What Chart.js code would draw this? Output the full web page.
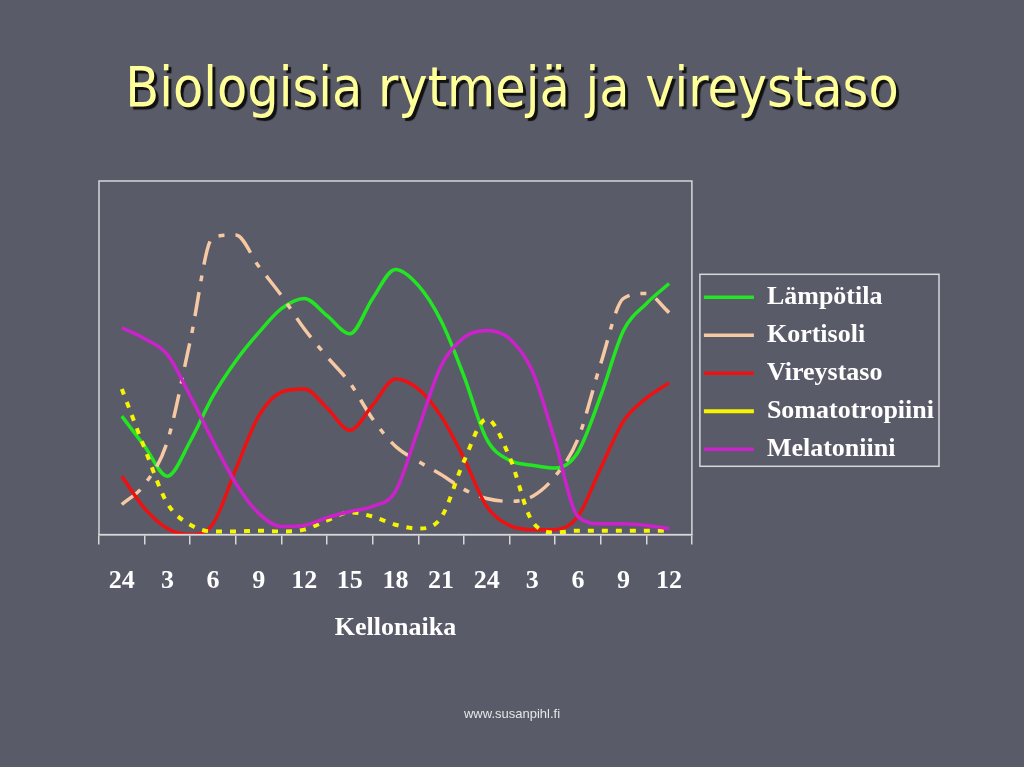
<!DOCTYPE html>
<html>
<head>
<meta charset="utf-8">
<script src="https://cdn.jsdelivr.net/npm/chart.js@4"></script>
<style>
  body { margin: 0; background: #595b69; }
  #wrap { position: relative; width: 1024px; height: 767px; overflow: hidden; }
  #title {
    position: absolute; left: 0; top: 55px; width: 1024px; text-align: center;
    font-family: 'DejaVu Sans', sans-serif; font-stretch: condensed;
    font-size: 55px; color: #ffff99; text-shadow: 3px 3px 1px #111;
    z-index: 2; white-space: nowrap;
  }
  #footer {
    position: absolute; left: 0; top: 706px; width: 1024px; text-align: center;
    font-family: 'Liberation Sans', Arial, sans-serif; font-size: 13px; color: #e6e6e6; z-index: 2;
  }
  #box { position: absolute; left: 0; top: 0; width: 1024px; height: 767px; }
</style>
</head>
<body>
<div id="wrap">
  <div id="title">Biologisia rytmejä ja vireystaso</div>
  <div id="box"><canvas id="myChart"></canvas></div>
  <div id="footer">www.susanpihl.fi</div>
</div>
<script>
'use strict';

// x axis labels (clock hours, every 3 h)
let hours = ['24', '3', '6', '9', '12', '15', '18', '21', '24', '3', '6', '9', '12'];

// samples every 1.5 h, in units of one tick
let samplePos = [0, 0.5, 1, 1.5, 2, 2.5, 3, 3.5, 4, 4.5, 5, 5.5, 6, 6.5, 7, 7.5, 8, 8.5, 9, 9.5, 10, 10.5, 11, 11.5, 12];

// series values (0..100 relative)
let lampotila = [33.5, 25, 16.5, 26.4, 39.2, 49.1, 57.1, 63.9, 66.8, 61.9, 56.8, 66.8, 75, 70.5, 60.5, 44.9, 27, 21, 19.6, 18.8, 23.3, 39.2, 57.7, 65.3, 71];
let kortisoli = [8.5, 14.2, 26.4, 54.8, 84.1, 84.7, 75.9, 67.6, 58.2, 50.3, 42.9, 32.7, 25, 20.7, 17, 12.8, 10.2, 9.4, 10.8, 16.5, 27, 48.3, 66.8, 68.2, 62.8];
let vireystaso = [16.5, 7.4, 1.7, 0, 3.1, 18.5, 33.5, 40.3, 41.2, 35.8, 29.5, 36.6, 44, 41.2, 33.5, 21.6, 8, 2.6, 1.4, 1.4, 5.1, 18.8, 32.1, 38.6, 42.9];
let somatotropiini = [41.2, 24.4, 8.8, 2.8, 0.9, 0.9, 1.1, 0.9, 1.4, 4, 6.3, 5.1, 2.8, 1.7, 4.8, 20.7, 32.7, 22, 3.7, 0.6, 1.1, 1.1, 1.1, 1.1, 1.1];
let melatoniini = [58.5, 55.4, 50.9, 39.2, 26.4, 14.5, 6, 2.3, 2.6, 4.8, 6.5, 8, 12.2, 29.8, 47.7, 55.7, 57.7, 55.4, 46.3, 26.4, 5.1, 3.1, 3.1, 2.6, 1.7];

function toPoints(values) {
  return values.map((v, i) => ({ x: samplePos[i], y: v }));
}

function makeSet(label, values, color, dash, width, order) {
  return {
    label: label,
    data: toPoints(values),
    borderColor: color,
    backgroundColor: color,
    borderWidth: width,
    borderDash: dash,
    pointRadius: 0,
    fill: false,
    cubicInterpolationMode: 'monotone',
    order: order
  };
}

// frame around plot area and legend
const frames = {
  id: 'frames',
  afterDraw(chart) {
    const ctx = chart.ctx;
    const a = chart.chartArea;
    ctx.save();
    ctx.strokeStyle = '#d8d8d8';
    ctx.lineWidth = 1.5;
    ctx.strokeRect(a.left, a.top, a.right - a.left, a.bottom - a.top);
    const hb = chart.legend.legendHitBoxes;
    if (hb && hb.length) {
      let l = Math.min(...hb.map(h => h.left));
      let r = Math.max(...hb.map(h => h.left + h.width));
      let t = hb[0].top;
      let b = hb[hb.length - 1].top + hb[hb.length - 1].height;
      ctx.strokeRect(l - 4, t - 10, r - l + 9, b - t + 14);
    }
    ctx.restore();
  }
};

const data = {
  datasets: [
    makeSet('Lämpötila', lampotila, '#22e622', [], 3.5, 4),
    makeSet('Kortisoli', kortisoli, '#f6c9a2', [24, 11, 6, 11], 3.5, 3),
    makeSet('Vireystaso', vireystaso, '#ee1111', [], 3.5, 2),
    makeSet('Somatotropiini', somatotropiini, '#f5f500', [6, 8], 4, 1),
    makeSet('Melatoniini', melatoniini, '#cc22cc', [], 3.5, 0)
  ]
};

const serif = "'Liberation Serif', 'Times New Roman', serif";

const config = {
  type: 'line',
  data: data,
  options: {
    responsive: true,
    maintainAspectRatio: false,
    animation: false,
    layout: { padding: { left: 99, top: 181, right: 80, bottom: 123 } },
    plugins: {
      tooltip: { enabled: false },
      legend: {
        position: 'right',
        fullSize: false,
        title: { display: true, text: '', font: { size: 10 }, padding: { top: 19, bottom: 0 } },
        labels: {
          color: '#ffffff',
          font: { family: serif, size: 26, weight: 'bold' },
          usePointStyle: true,
          pointStyle: 'line',
          pointStyleWidth: 50,
          padding: 12,
          sort: (a, b) => a.datasetIndex - b.datasetIndex
        }
      }
    },
    scales: {
      x: {
        type: 'linear',
        min: -0.5,
        max: 12.5,
        afterBuildTicks: (scale) => {
          scale.ticks = hours.map((h, i) => ({ value: i }));
        },
        ticks: {
          autoSkip: false,
          maxRotation: 0,
          padding: 21,
          color: '#ffffff',
          font: { family: serif, size: 26, weight: 'bold' },
          callback: (v) => hours[v]
        },
        grid: {
          offset: true,
          drawOnChartArea: false,
          drawTicks: true,
          tickLength: 10,
          color: '#d8d8d8',
          lineWidth: 1.5
        },
        border: { display: true, color: '#d8d8d8', width: 1.5 },
        title: {
          display: true,
          text: 'Kellonaika',
          color: '#ffffff',
          font: { family: serif, size: 26, weight: 'bold' },
          padding: { top: -5, bottom: 0 }
        }
      },
      y: {
        display: false,
        min: 0,
        max: 100
      }
    }
  },
  plugins: [frames]
};

const myChart = new Chart(document.getElementById('myChart'), config);
</script>
</body>
</html>
